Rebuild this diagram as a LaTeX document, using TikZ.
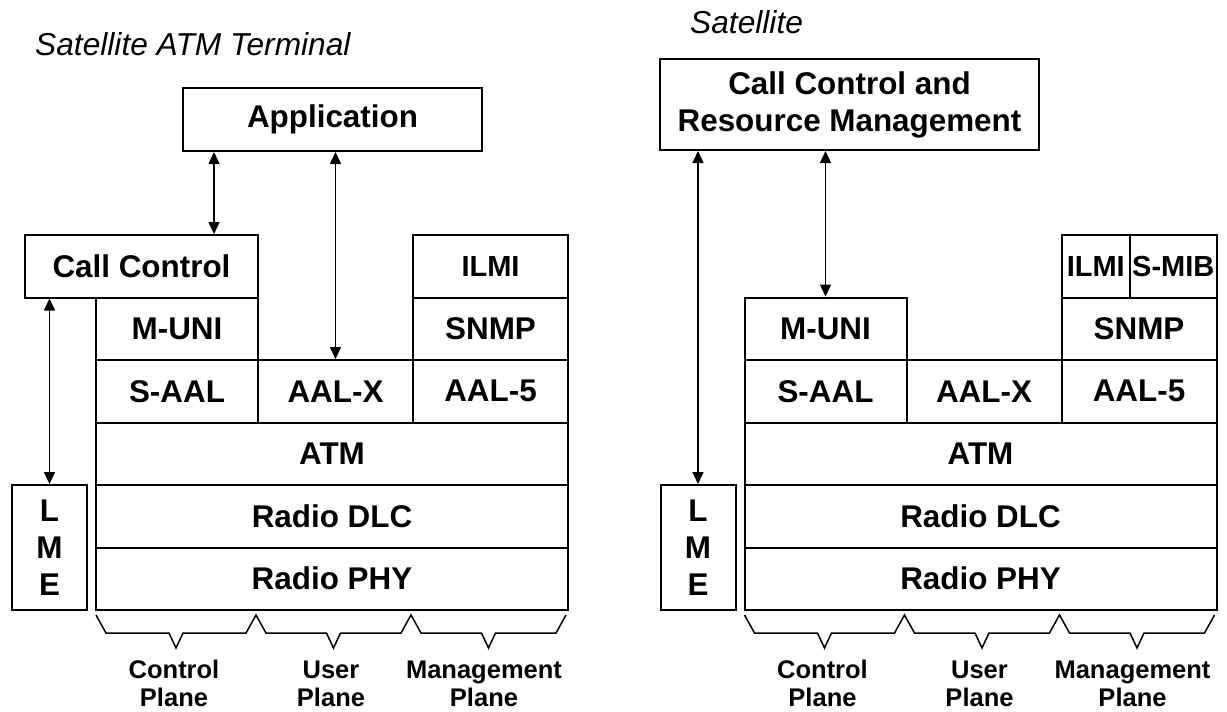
\documentclass[tikz,border=0pt]{standalone}
\usepackage{fontspec}
\setmainfont{Liberation Sans}
\usetikzlibrary{arrows.meta}

\tikzstyle{layer} = [draw, line width=2pt, inner sep=0pt, minimum height=62.5pt, align=center, font=\fontsize{31.4}{37}\selectfont\bfseries]
\tikzstyle{mib}   = [font=\fontsize{29}{37}\selectfont\bfseries]
\tikzstyle{link}  = [{Triangle[length=12pt,width=11pt]}-{Triangle[length=12pt,width=11pt]}, line width=1.5pt]
\tikzstyle{brace} = [line width=1.5pt, line join=miter]
\tikzstyle{plane} = [inner sep=0pt, anchor=north, align=center, font=\fontsize{25.5}{28}\selectfont\bfseries]
\tikzstyle{title} = [inner sep=0pt, anchor=base west, font=\fontsize{31.7}{37}\selectfont\itshape]
\def\hump#1{ -- ++(10,18) -- ++(#1,0) -- ++(7,15) -- ++(7,-15) -- ++(#1,0) -- ++(10,-18) }
\def\layerstack#1#2{
  \node[layer, minimum width=162pt] (#2muni) at (#1+177,328.75) {M-UNI};
  \node[layer, minimum width=155pt] (#2snmp) at (#1+490.5,328.75) {SNMP};
  \node[layer, minimum width=162pt] (#2saal) at (#1+177,391.25) {S-AAL};
  \node[layer, minimum width=155pt] (#2aalx) at (#1+335.5,391.25) {AAL-X};
  \node[layer, minimum width=155pt] (#2aalv) at (#1+490.5,391.25) {AAL-5};
  \node[layer, minimum width=472pt] (#2atm) at (#1+332,453.75) {ATM};
  \node[layer, minimum width=472pt] (#2dlc) at (#1+332,516.25) {Radio DLC};
  \node[layer, minimum width=472pt] (#2phy) at (#1+332,578.75) {Radio PHY};
  \node[layer, minimum width=75pt, minimum height=125pt] (#2lme) at (#1+49.5,547.5) {L\\M\\E};
  \draw[brace] (#1+96,615) \hump{63} \hump{60.5} \hump{60.5};
  \node[plane] (#2ctrl) at (#1+174,659) {\strut Control\\Plane};
  \node[plane] (#2user) at (#1+331,659) {\strut User\\Plane};
  \node[plane] (#2mgmt) at (#1+484,659) {\strut Management\\Plane};
}

\begin{document}
\begin{tikzpicture}[x=1pt, y=-1pt]
  \useasboundingbox (0,0) rectangle (1227,712);
  \layerstack{0}{l}
  \layerstack{648.5}{r}

  \node[title] (ltitle) at (35,55) {Satellite ATM Terminal};
  \node[layer, minimum width=299pt, minimum height=63pt] (lapp) at (332.5,119.5) {Application};
  \node[layer, minimum width=233pt] (lcc) at (141.5,266.25) {Call Control};
  \node[layer, mib, minimum width=155pt] (lilmi) at (490.5,266.25) {ILMI};
  \coordinate (lcctop) at ([xshift=32pt]lapp.south west);
  \draw[link] (lcctop) -- (lcctop |- lcc.north);
  \draw[link] (laalx.north) -- (laalx.north |- lapp.south);
  \draw[link] (llme.north) -- (llme.north |- lcc.south);

  \node[title] (rtitle) at (690,34) {Satellite};
  \node[layer, minimum width=379pt, minimum height=91pt] (rccrm) at (849.5,104.5) {Call Control and\\Resource Management};
  \node[layer, mib, minimum width=68.5pt] (rilmi) at (1095.75,266.25) {ILMI};
  \node[layer, mib, minimum width=86.5pt] (rsmib) at (1173.25,266.25) {S-MIB};
  \draw[link] (rlme.north) -- (rlme.north |- rccrm.south);
  \draw[link] (rmuni.north) -- (rmuni.north |- rccrm.south);
\end{tikzpicture}
\end{document}
